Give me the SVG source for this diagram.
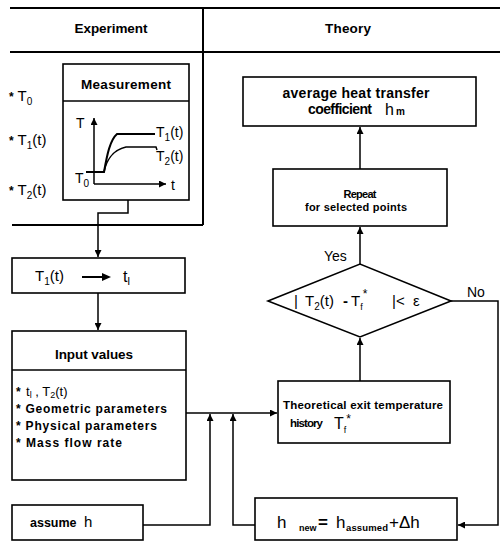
<svg xmlns="http://www.w3.org/2000/svg" width="503" height="542" viewBox="0 0 503 542">
<defs>
<style>
.frame{stroke:#000;stroke-width:2;fill:none}
.box{stroke:#000;stroke-width:1.6;fill:#fff}
.ln{stroke:#000;stroke-width:1.5;fill:none}
.hd{font-family:"Liberation Sans",Arial,sans-serif;font-weight:bold;fill:#000}
.sm{font-family:"Liberation Sans",Arial,sans-serif;font-weight:bold;fill:#000}
.mt{font-family:"Liberation Sans",Arial,sans-serif;fill:#000}
</style>
<marker id="ah" viewBox="0 0 10 10" refX="10" refY="5" markerWidth="7" markerHeight="7" markerUnits="userSpaceOnUse" orient="auto">
<path d="M0,0 L10,5 L0,10 z" fill="#000"/>
</marker>
</defs>
<rect width="503" height="542" fill="#fff"/>

<g id="frame">
<line class="frame" x1="10" y1="8" x2="500" y2="8"/>
<line class="frame" x1="10" y1="52" x2="500" y2="52"/>
<line class="frame" x1="203" y1="8" x2="203" y2="225"/>
<line class="frame" x1="12" y1="225" x2="203" y2="225"/>
<text class="hd" font-size="13.5" x="111" y="33" text-anchor="middle" textLength="73" lengthAdjust="spacing">Experiment</text>
<text class="hd" font-size="13.5" x="348" y="33" text-anchor="middle" textLength="46" lengthAdjust="spacing">Theory</text>
</g>

<g id="exp-labels">
<text class="mt" font-size="15" x="9" y="101"><tspan font-size="12" font-weight="bold">*</tspan> T<tspan font-size="10" dy="4">0</tspan></text>
<text class="mt" font-size="15" x="9" y="145"><tspan font-size="12" font-weight="bold">*</tspan> T<tspan font-size="10" dy="4">1</tspan><tspan dy="-4">(t)</tspan></text>
<text class="mt" font-size="15" x="9" y="195"><tspan font-size="12" font-weight="bold">*</tspan> T<tspan font-size="10" dy="4">2</tspan><tspan dy="-4">(t)</tspan></text>
</g>

<g id="measurement">
<rect class="box" x="63" y="64" width="126" height="136"/>
<line class="ln" x1="63" y1="101" x2="189" y2="101"/>
<text class="hd" font-size="13.5" x="126" y="89" text-anchor="middle" textLength="90" lengthAdjust="spacing">Measurement</text>
<line class="ln" x1="94" y1="184" x2="94" y2="118" marker-end="url(#ah)"/>
<line class="ln" x1="94" y1="184" x2="166" y2="184" marker-end="url(#ah)"/>
<path d="M86,172 L104,172 C107,155 110,140 117,134 L155,134" stroke="#000" stroke-width="2" fill="none"/>
<path d="M104,172 C106,162 112,150 126,147 L156,147 L157,150" stroke="#000" stroke-width="1.5" fill="none"/>
<text class="mt" font-size="14" x="76" y="128">T</text>
<text class="mt" font-size="14" x="156" y="137">T<tspan font-size="10" dy="4">1</tspan><tspan dy="-4">(t)</tspan></text>
<text class="mt" font-size="14" x="156" y="161">T<tspan font-size="10" dy="4">2</tspan><tspan dy="-4">(t)</tspan></text>
<text class="mt" font-size="14" x="75" y="183">T<tspan font-size="10" dy="4">0</tspan></text>
<text class="mt" font-size="14" x="171" y="190">t</text>
</g>

<g id="t1-box">
<rect class="box" x="12" y="258" width="173" height="35"/>
<text class="mt" font-size="15" x="35" y="281">T<tspan font-size="10" dy="4">1</tspan><tspan dy="-4">(t)</tspan></text>
<line x1="82" y1="277" x2="104" y2="277" stroke="#000" stroke-width="2"/>
<path d="M102,273 L111,277 L102,281 z" fill="#000"/>
<text class="mt" font-size="16" x="123" y="282">t<tspan font-size="11" dy="3">l</tspan></text>
</g>

<g id="input-values">
<rect class="box" x="12" y="331" width="174" height="149"/>
<line class="ln" x1="12" y1="370" x2="186" y2="370"/>
<text class="hd" font-size="13.5" x="94" y="359" text-anchor="middle" textLength="78" lengthAdjust="spacing">Input values</text>
<text class="mt" font-size="13" x="16" y="396"><tspan font-size="12" font-weight="bold">*</tspan><tspan x="26">t</tspan><tspan font-size="9" dy="2">l</tspan><tspan dy="-2"> , T</tspan><tspan font-size="9" dy="2">2</tspan><tspan dy="-2">(t)</tspan></text>
<text class="sm" font-size="12" x="16" y="413" textLength="151" lengthAdjust="spacing">* Geometric parameters</text>
<text class="sm" font-size="12" x="16" y="430" textLength="141" lengthAdjust="spacing">* Physical parameters</text>
<text class="sm" font-size="12" x="16" y="447" textLength="106" lengthAdjust="spacing">* Mass flow rate</text>
</g>

<g id="assume-h">
<rect class="box" x="12" y="505" width="131" height="35"/>
<text class="mt" font-size="15" x="30" y="527"><tspan font-size="12.5" font-weight="bold">assume</tspan><tspan x="84">h</tspan></text>
</g>

<g id="avg-h">
<rect class="box" x="243" y="77" width="233" height="49"/>
<text class="hd" font-size="14" x="356" y="98" text-anchor="middle" textLength="147" lengthAdjust="spacing">average  heat transfer</text>
<text class="hd" font-size="14" x="340" y="114" text-anchor="middle" textLength="64" lengthAdjust="spacing">coefficient</text>
<text class="mt" font-size="16" x="385" y="115">h<tspan font-size="10" font-weight="bold" dx="2">m</tspan></text>
</g>

<g id="repeat">
<rect class="box" x="273" y="169" width="174" height="57"/>
<text class="sm" font-size="11" x="360" y="198" text-anchor="middle" textLength="33" lengthAdjust="spacing">Repeat</text>
<text class="sm" font-size="11" x="356" y="211" text-anchor="middle" textLength="102" lengthAdjust="spacing">for selected points</text>
</g>

<g id="decision">
<polygon points="268,301 360,264 451,301 360,337" fill="#fff" stroke="#000" stroke-width="1.6"/>
<text class="mt" font-size="15" y="306"><tspan x="294">|</tspan><tspan x="305">T</tspan><tspan font-size="10" dy="4">2</tspan><tspan dy="-4">(t)</tspan><tspan x="343" font-weight="bold">-</tspan><tspan x="351">T</tspan><tspan font-size="9" dy="4">f</tspan><tspan font-size="12" dy="-12">*</tspan><tspan font-size="15" x="392" dy="8">|&lt;</tspan><tspan x="413">ε</tspan></text>
</g>

<g id="theoretical">
<rect class="box" x="278" y="381" width="172" height="62"/>
<text class="sm" font-size="11.5" x="283" y="409" textLength="160" lengthAdjust="spacing">Theoretical exit temperature</text>
<text class="sm" font-size="11.5" x="290" y="427" textLength="33" lengthAdjust="spacing">history</text>
<text class="mt" font-size="16" x="334" y="429">T<tspan font-size="9" dy="4">f</tspan><tspan font-size="12" dy="-10">*</tspan></text>
</g>

<g id="h-new">
<rect class="box" x="255" y="498" width="202" height="42"/>
<text class="mt" font-size="17" y="528"><tspan x="277">h</tspan><tspan x="299" font-size="9" font-weight="bold" dy="3">new</tspan><tspan x="318" dy="-3" font-weight="bold">=</tspan><tspan x="336">h</tspan><tspan x="346" font-size="9.5" font-weight="bold" dy="3" textLength="42" lengthAdjust="spacing">assumed</tspan><tspan x="389" dy="-3">+</tspan><tspan x="399">Δh</tspan></text>
</g>

<g id="connectors">
<polyline class="ln" points="128,200 128,213 98,213 98,257" marker-end="url(#ah)"/>
<line class="ln" x1="98" y1="293" x2="98" y2="330" marker-end="url(#ah)"/>
<line class="ln" x1="186" y1="413" x2="277" y2="413" marker-end="url(#ah)"/>
<polyline class="ln" points="143,525 210,525 210,414" marker-end="url(#ah)"/>
<polyline class="ln" points="255,525 233,525 233,414" marker-end="url(#ah)"/>
<line class="ln" x1="360" y1="381" x2="360" y2="338" marker-end="url(#ah)"/>
<line class="ln" x1="360" y1="264" x2="360" y2="227" marker-end="url(#ah)"/>
<line class="ln" x1="360" y1="169" x2="360" y2="127" marker-end="url(#ah)"/>
<polyline class="ln" points="451,301 498,301 498,525 458,525" marker-end="url(#ah)"/>
<text class="mt" font-size="14" x="324" y="261">Yes</text>
<text class="mt" font-size="14" x="467" y="297">No</text>
</g>
</svg>
